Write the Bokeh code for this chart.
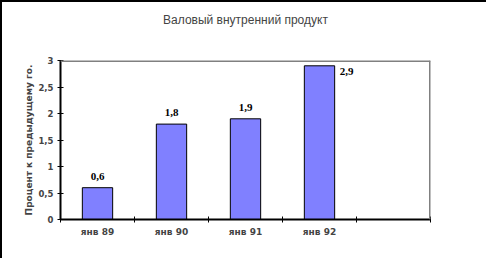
from bokeh.plotting import figure
from bokeh.models import (ColumnDataSource, FixedTicker, CustomJSTickFormatter,
                          LabelSet, Title, Span, Range1d)
from bokeh.embed import file_html
from bokeh.resources import INLINE

title = "Валовый внутренний продукт"
y_title = "Процент к предыдущему го."
categories = ["янв 89", "янв 90", "янв 91", "янв 92", ""]
values = [0.6, 1.8, 1.9, 2.9]
y_ticks = [0, 0.5, 1, 1.5, 2, 2.5, 3]

n = len(categories)
centers = [i + 0.5 for i in range(len(values))]
labels = [f"{v:.1f}".replace(".", ",") for v in values]

W, H = 486, 258
p = figure(width=W, height=H, output_backend="svg", toolbar_location=None,
           x_range=Range1d(0, n), y_range=Range1d(0, 3),
           min_border_left=58, min_border_right=58, min_border_top=58,
           min_border_bottom=41)
p.styles = {"border-left": "2px solid black", "border-top": "2px solid black"}
p.outline_line_color = None
p.background_fill_color = "white"
p.border_fill_color = "white"
p.xgrid.visible = False
p.ygrid.visible = False
p.title.visible = False

# spacer between frame and title, then the title further out
p.add_layout(Title(text=" ", text_font_size="29px", standoff=0), "above")
p.add_layout(Title(text=title, align="center", text_font="Liberation Sans",
                   text_font_size="12px", text_font_style="normal", standoff=0), "above")

src = ColumnDataSource(dict(x=centers, top=values, label=labels))
p.vbar(x="x", top="top", width=0.41, source=src, fill_color="#8080FF",
       line_color="black", line_width=1)

inner = [i for i, v in enumerate(values) if v <= 2.5]
outer = [i for i, v in enumerate(values) if v > 2.5]
src_in = ColumnDataSource(dict(x=[centers[i] for i in inner], y=[values[i] for i in inner],
                               label=[labels[i] for i in inner]))
src_out = ColumnDataSource(dict(x=[centers[i] for i in outer], y=[values[i] for i in outer],
                                label=[labels[i] for i in outer]))
common = dict(text_font="DejaVu Sans", text_font_size="11px", text_font_style="bold",
              text_color="black")
p.add_layout(LabelSet(x="x", y="y", text="label", source=src_in, y_offset=8,
                      text_align="center", text_baseline="bottom", **common))
p.add_layout(LabelSet(x="x", y="y", text="label", source=src_out, x_offset=27, y_offset=-6,
                      text_align="center", text_baseline="middle", **common))

# frame top and right edges
p.add_layout(Span(location=3, dimension="width", line_color="#808080", line_width=3))
p.add_layout(Span(location=n, dimension="height", line_color="#808080", line_width=3))

xa = p.xaxis[0]
xa.ticker = FixedTicker(ticks=[i + 0.5 for i in range(n)], minor_ticks=list(range(n + 1)))
xa.formatter = CustomJSTickFormatter(args=dict(labels=categories),
                                     code="return labels[Math.floor(tick)] || '';")
xa.major_tick_in = 0
xa.major_tick_out = 0
xa.minor_tick_in = 3
xa.minor_tick_out = 3
xa.minor_tick_line_color = "black"
xa.axis_line_color = "black"
xa.axis_line_width = 2
xa.major_label_text_font = "DejaVu Sans"
xa.major_label_text_font_size = "9px"
xa.major_label_text_font_style = "bold"
xa.major_label_standoff = 4

ya = p.yaxis[0]
ya.ticker = FixedTicker(ticks=y_ticks)
ya.formatter = CustomJSTickFormatter(code="return String(tick).replace('.', ',');")
ya.major_tick_in = 3
ya.major_tick_out = 3
ya.minor_tick_line_color = None
ya.axis_line_color = "black"
ya.axis_line_width = 2
ya.major_label_text_font = "DejaVu Sans"
ya.major_label_text_font_size = "8.5px"
ya.major_label_text_font_style = "bold"
ya.major_label_standoff = 4
ya.axis_label = y_title
ya.axis_label_text_font = "DejaVu Sans"
ya.axis_label_text_font_size = "9px"
ya.axis_label_text_font_style = "bold"
ya.axis_label_standoff = 1

open("out.html", "w").write(file_html(p, INLINE))
